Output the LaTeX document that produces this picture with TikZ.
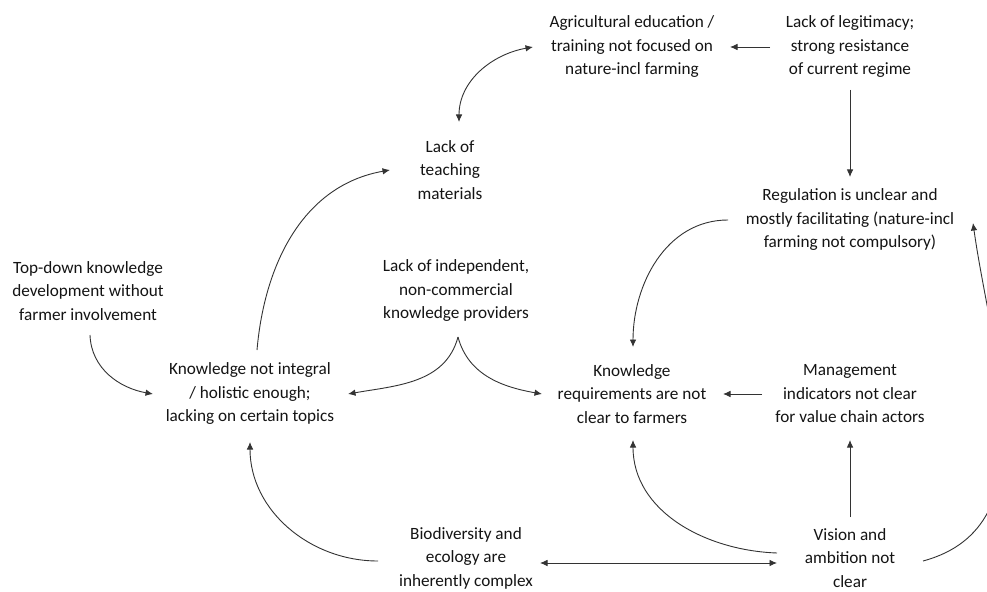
\documentclass[tikz,border=0pt]{standalone}
\usepackage{fontspec}
\setmainfont{Carlito}
\usetikzlibrary{arrows.meta}
\definecolor{txt}{HTML}{141414}
\definecolor{ln}{HTML}{333333}
\tikzset{
  lbl/.style={align=center, inner sep=0pt, text=txt, font=\fontsize{17.2bp}{23.5bp}\selectfont},
  con/.style={draw=ln, line width=0.9bp, -{Latex[length=7.5bp,width=6.5bp]}},
  dcon/.style={draw=ln, line width=0.9bp, {Latex[length=7.5bp,width=6.5bp]}-{Latex[length=7.5bp,width=6.5bp]}}
}
\begin{document}
\begin{tikzpicture}[x=1bp,y=1bp]
\useasboundingbox[fill=white] (0,0) rectangle (987,-592);
\node[lbl] (agri) at (632,-47) {Agricultural education /\\training not focused on\\nature-incl farming};
\node[lbl] (legit) at (850,-47) {Lack of legitimacy;\\strong resistance\\of current regime};
\node[lbl] (teach) at (450,-170) {Lack of\\teaching\\materials};
\node[lbl] (reg) at (850,-220) {Regulation is unclear and\\mostly facilitating (nature-incl\\farming not compulsory)};
\node[lbl] (topdown) at (88,-291) {Top-down knowledge\\development without\\farmer involvement};
\node[lbl] (indep) at (456,-291) {Lack of independent,\\non-commercial\\knowledge providers};
\node[lbl] (kint) at (250,-394) {Knowledge not integral\\/ holistic enough;\\lacking on certain topics};
\node[lbl] (kreq) at (632,-394) {Knowledge\\requirements are not\\clear to farmers};
\node[lbl] (mgmt) at (850,-394) {Management\\indicators not clear\\for value chain actors};
\node[lbl] (bio) at (466,-558) {Biodiversity and\\ecology are\\inherently complex};
\node[lbl] (vision) at (850,-558) {Vision and\\ambition not\\clear};

\draw[con] ([shift={(-80,0)}]legit.center) -- ([shift={(98,0)}]agri.center);
\draw[con] ([shift={(0,-43)}]legit.center) -- ([shift={(0,43)}]reg.center);
\draw[dcon] ([shift={(9,48)}]teach.center) to[out=90,in=190] ([shift={(-99,0)}]agri.center);
\draw[con] ([shift={(2,-44)}]topdown.center) to[out=-88,in=170] ([shift={(-97,0)}]kint.center);
\draw[con] ([shift={(7,44)}]kint.center) to[out=85,in=190] ([shift={(-60,0)}]teach.center);
\draw[con] ([shift={(2,-46)}]indep.center) to[out=-105,in=10] ([shift={(98,0)}]kint.center);
\draw[con] ([shift={(2,-46)}]indep.center) to[out=-75,in=170] ([shift={(-90,0)}]kreq.center);
\draw[con] ([shift={(-122,0)}]reg.center) to[out=180,in=90] ([shift={(1,47)}]kreq.center);
\draw[con] ([shift={(-88,0)}]mgmt.center) -- ([shift={(91,0)}]kreq.center);
\draw[con] ([shift={(-88,-3)}]bio.center) to[out=180,in=-90] ([shift={(0,-48)}]kint.center);
\draw[con] ([shift={(-73,5)}]vision.center) to[out=178,in=-90] ([shift={(1,-46)}]kreq.center);
\draw[con] ([shift={(0,41)}]vision.center) -- ([shift={(0,-46)}]mgmt.center);
\draw[dcon] ([shift={(74,-5)}]bio.center) -- ([shift={(-73,-5)}]vision.center);
\draw[con] ([shift={(73,-3)}]vision.center) to[out=15,in=-82] ([shift={(123,-3)}]reg.center);
\end{tikzpicture}
\end{document}
